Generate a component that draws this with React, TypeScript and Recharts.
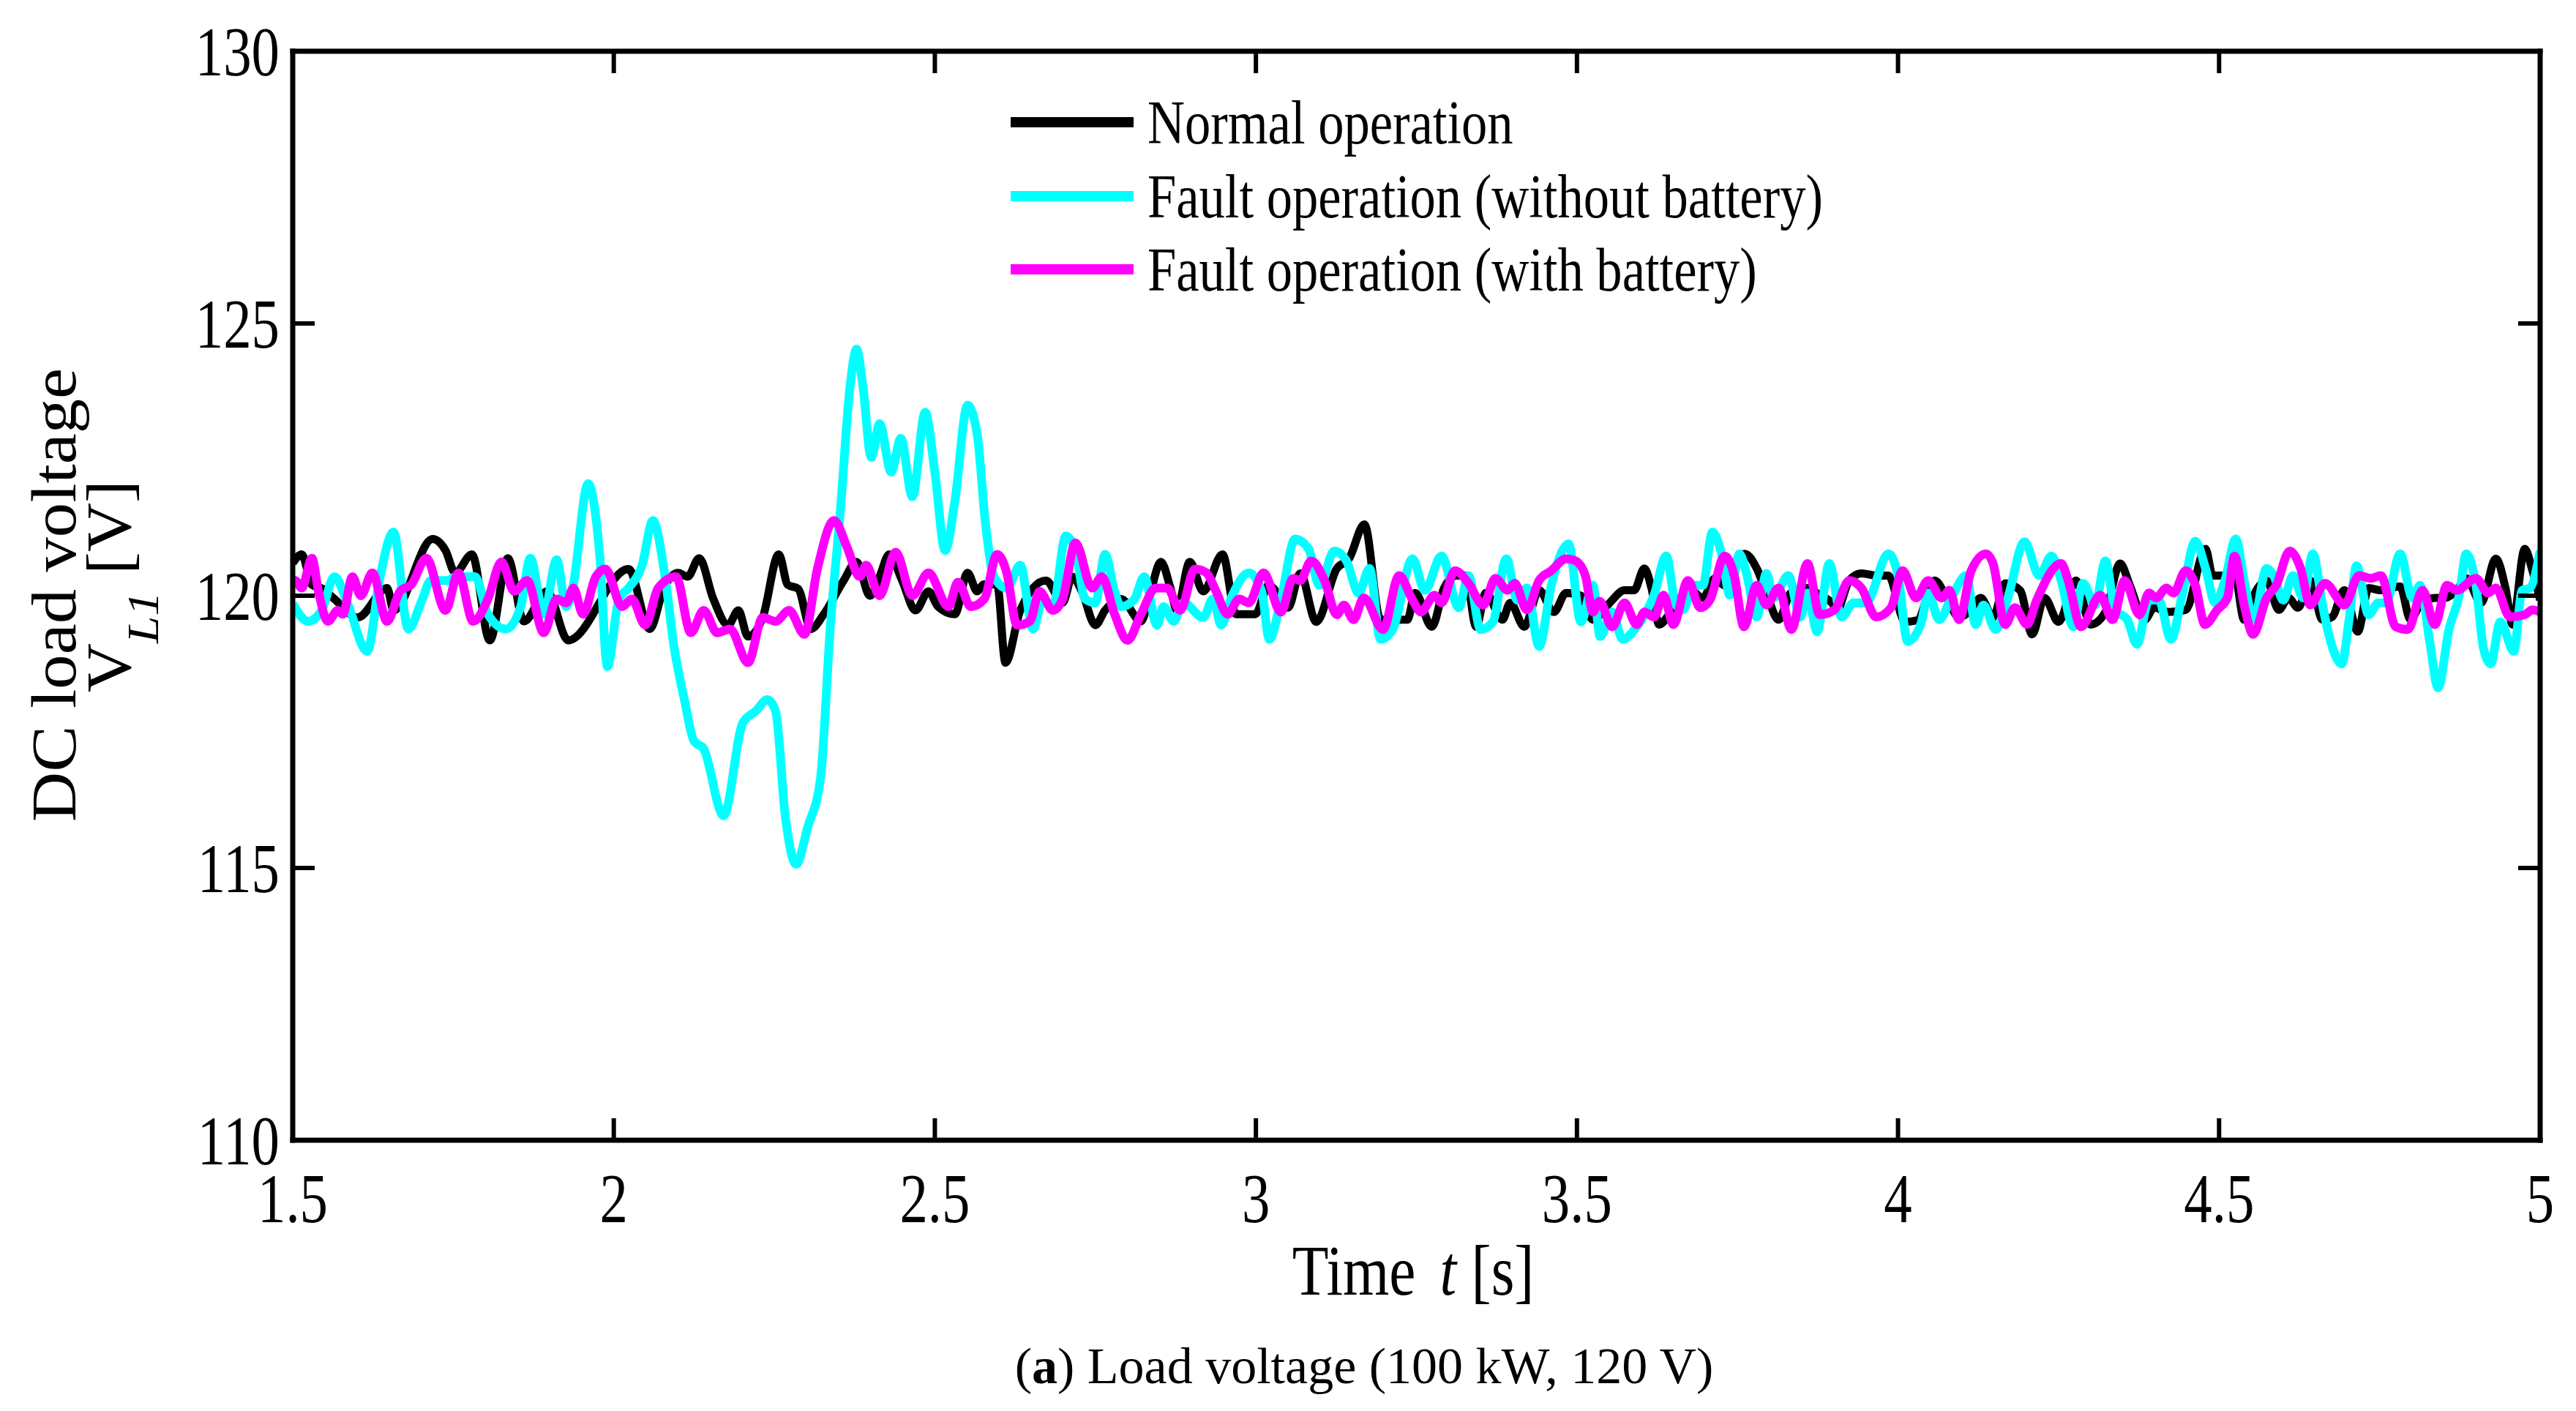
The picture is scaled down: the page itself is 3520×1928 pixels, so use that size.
import { LineChart, Line, XAxis, YAxis, Legend, Customized } from 'recharts';

// time [s] / voltage [V]
const normalT = [
  1.5, 1.514, 1.53, 1.546, 1.565, 1.601, 1.647, 1.657, 1.718, 1.738, 1.753, 1.779, 1.807, 1.835, 1.86, 1.896,
  1.929, 2.023, 2.056, 2.078, 2.1, 2.115, 2.133, 2.155, 2.178, 2.194, 2.209, 2.232, 2.257, 2.271, 2.287, 2.307,
  2.327, 2.358, 2.378, 2.399, 2.414, 2.429, 2.449, 2.47, 2.49, 2.505, 2.531, 2.551, 2.566, 2.576, 2.597, 2.61,
  2.633, 2.673, 2.699, 2.714, 2.729, 2.75, 2.765, 2.79, 2.821, 2.836, 2.852, 2.867, 2.877, 2.897, 2.918, 2.948,
  2.969, 2.999, 3.02, 3.027, 3.05, 3.069, 3.094, 3.126, 3.145, 3.169, 3.194, 3.236, 3.248, 3.274, 3.293, 3.312,
  3.327, 3.343, 3.358, 3.384, 3.396, 3.418, 3.441, 3.464, 3.483, 3.506, 3.525, 3.551, 3.574, 3.589, 3.605, 3.616,
  3.628, 3.643, 3.658, 3.677, 3.696, 3.715, 3.73, 3.761, 3.78, 3.795, 3.814, 3.833, 3.859, 3.878, 3.897, 3.905,
  3.924, 3.943, 3.966, 3.985, 4.011, 4.03, 4.057, 4.076, 4.095, 4.11, 4.129, 4.148, 4.167, 4.19, 4.209, 4.228,
  4.25, 4.277, 4.3, 4.323, 4.346, 4.361, 4.384, 4.399, 4.421, 4.448, 4.479, 4.49, 4.509, 4.524, 4.539, 4.558,
  4.574, 4.593, 4.608, 4.623, 4.642, 4.661, 4.676, 4.695, 4.716, 4.733, 4.752, 4.782, 4.798, 4.813, 4.836, 4.851,
  4.87, 4.885, 4.908, 4.931, 4.946, 4.957, 4.976, 4.988, 5.0,
];
const normalV = [
  120.6, 120.76, 120.2, 120.13, 119.94, 119.6, 120.14, 119.73, 121.04, 120.83, 120.42, 120.76, 119.18, 120.69, 119.53, 120.08,
  119.18, 120.49, 119.39, 120.14, 120.42, 120.35, 120.69, 119.94, 119.46, 119.73, 119.25, 119.6, 120.76, 120.2, 120.13, 119.39,
  119.66, 120.28, 120.62, 120.0, 120.35, 120.76, 120.28, 119.73, 120.08, 119.8, 119.66, 120.42, 120.08, 120.21, 120.21, 118.77,
  119.73, 120.28, 119.87, 120.35, 120.08, 119.46, 119.73, 119.94, 119.53, 120.08, 120.62, 120.14, 119.73, 120.62, 120.08, 120.76,
  119.66, 119.66, 120.2, 120.14, 119.78, 120.41, 119.52, 120.5, 120.68, 121.31, 119.56, 119.56, 120.05, 119.43, 120.14, 120.37,
  120.37, 119.43, 120.05, 119.56, 119.87, 119.43, 120.1, 119.7, 120.05, 120.0, 119.56, 119.87, 120.1, 120.1, 120.5, 120.14,
  119.47, 119.65, 119.92, 120.1, 119.96, 120.32, 120.19, 120.77, 120.5, 120.05, 119.56, 120.05, 120.14, 120.01, 119.87, 119.74,
  120.28, 120.41, 120.37, 120.37, 119.52, 119.55, 120.28, 119.96, 119.6, 119.7, 119.96, 119.6, 120.23, 120.1, 119.29, 119.96,
  119.52, 120.28, 119.47, 119.7, 120.59, 120.19, 119.56, 119.78, 119.7, 119.74, 120.86, 120.37, 120.37, 120.41, 119.56, 120.1,
  120.28, 119.74, 119.96, 119.78, 120.28, 119.56, 119.61, 120.1, 119.34, 120.14, 120.1, 120.17, 119.56, 119.83, 119.96, 119.96,
  120.1, 120.32, 119.87, 120.68, 120.14, 119.47, 120.86, 120.46, 119.92,
];

const noBatteryT = [
  1.5, 1.524, 1.545, 1.565, 1.585, 1.616, 1.636, 1.657, 1.68, 1.702, 1.715, 1.743, 1.753, 1.784, 1.804, 1.832,
  1.855, 1.87, 1.891, 1.911, 1.926, 1.936, 1.96, 1.978, 1.99, 2.008, 2.023, 2.044, 2.061, 2.079, 2.094, 2.11,
  2.125, 2.14, 2.171, 2.201, 2.221, 2.239, 2.252, 2.267, 2.284, 2.302, 2.322, 2.337, 2.353, 2.368, 2.378, 2.388,
  2.401, 2.414, 2.432, 2.447, 2.465, 2.485, 2.5, 2.516, 2.531, 2.551, 2.566, 2.579, 2.592, 2.612, 2.633, 2.653,
  2.668, 2.684, 2.704, 2.719, 2.734, 2.75, 2.765, 2.78, 2.79, 2.811, 2.826, 2.846, 2.856, 2.872, 2.887, 2.918,
  2.933, 2.946, 2.963, 2.989, 3.009, 3.021, 3.039, 3.061, 3.082, 3.099, 3.122, 3.141, 3.16, 3.177, 3.194, 3.213,
  3.244, 3.263, 3.289, 3.316, 3.331, 3.35, 3.369, 3.39, 3.407, 3.422, 3.441, 3.46, 3.487, 3.506, 3.525, 3.536,
  3.555, 3.571, 3.593, 3.608, 3.62, 3.639, 3.654, 3.665, 3.681, 3.696, 3.711, 3.726, 3.738, 3.753, 3.764, 3.78,
  3.795, 3.806, 3.829, 3.848, 3.859, 3.874, 3.893, 3.912, 3.931, 3.95, 3.985, 4.0, 4.015, 4.036, 4.047, 4.064,
  4.083, 4.106, 4.121, 4.133, 4.152, 4.171, 4.197, 4.22, 4.239, 4.254, 4.273, 4.288, 4.307, 4.323, 4.338, 4.357,
  4.372, 4.391, 4.406, 4.425, 4.444, 4.463, 4.479, 4.494, 4.509, 4.526, 4.539, 4.554, 4.574, 4.585, 4.6, 4.615,
  4.631, 4.646, 4.661, 4.669, 4.691, 4.703, 4.714, 4.733, 4.748, 4.76, 4.782, 4.801, 4.813, 4.828, 4.841, 4.858,
  4.874, 4.885, 4.9, 4.912, 4.923, 4.938, 4.959, 4.972, 4.984, 5.0,
];
const noBatteryV = [
  119.85, 119.53, 119.73, 120.35, 119.87, 118.98, 120.35, 121.17, 119.39, 119.94, 120.28, 120.28, 120.35, 120.35, 119.66, 119.39,
  119.8, 120.69, 119.66, 120.66, 119.8, 120.14, 122.06, 120.76, 118.7, 119.94, 120.14, 120.56, 121.38, 120.42, 119.05, 118.09,
  117.33, 117.19, 115.96, 117.67, 117.88, 118.09, 117.88, 115.96, 115.07, 115.75, 116.65, 119.39, 121.58, 123.85, 124.53, 123.85,
  122.54, 123.16, 122.27, 122.89, 121.82, 123.37, 122.27, 120.83, 121.72, 123.5, 122.96, 121.31, 120.35, 120.14, 120.56, 119.39,
  119.94, 119.8, 121.1, 120.83, 119.94, 119.87, 120.76, 120.08, 119.8, 119.94, 120.35, 119.46, 119.8, 119.53, 119.87, 119.6,
  119.94, 119.46, 120.0, 120.42, 120.08, 119.2, 119.92, 121.04, 120.86, 120.19, 120.82, 120.64, 120.05, 120.5, 119.2, 119.38,
  120.68, 120.1, 120.73, 119.78, 120.37, 119.38, 119.52, 120.68, 119.92, 120.14, 119.07, 120.19, 120.95, 119.52, 120.19, 119.25,
  119.7, 119.2, 119.43, 119.7, 120.01, 120.73, 119.83, 119.74, 120.19, 120.19, 121.17, 120.73, 120.01, 120.77, 120.41, 119.61,
  120.41, 119.96, 120.37, 119.61, 120.05, 119.34, 120.59, 119.61, 119.87, 119.87, 120.77, 120.37, 119.16, 119.5, 120.05, 119.56,
  119.96, 120.37, 119.47, 119.83, 119.38, 119.96, 120.99, 120.37, 120.73, 120.28, 119.43, 120.23, 119.83, 120.64, 119.74, 119.56,
  119.11, 119.92, 119.92, 119.2, 120.1, 121.0, 120.5, 119.87, 120.28, 121.04, 120.28, 119.56, 120.5, 120.37, 119.92, 120.37,
  119.96, 120.77, 119.83, 119.38, 118.75, 119.61, 120.55, 119.65, 119.87, 119.87, 120.77, 119.96, 120.19, 119.16, 118.31, 119.38,
  120.01, 120.77, 120.19, 119.02, 118.75, 119.52, 118.98, 120.1, 120.14, 120.82,
];

const withBatteryT = [
  1.5, 1.504, 1.514, 1.53, 1.54, 1.555, 1.57, 1.578, 1.593, 1.606, 1.624, 1.647, 1.667, 1.685, 1.708, 1.738,
  1.758, 1.781, 1.804, 1.825, 1.845, 1.865, 1.891, 1.911, 1.926, 1.937, 1.952, 1.972, 1.987, 2.013, 2.028, 2.049,
  2.069, 2.097, 2.12, 2.14, 2.161, 2.181, 2.209, 2.232, 2.252, 2.273, 2.297, 2.317, 2.343, 2.363, 2.383, 2.393,
  2.414, 2.439, 2.465, 2.49, 2.521, 2.536, 2.556, 2.577, 2.597, 2.612, 2.628, 2.648, 2.663, 2.684, 2.699, 2.719,
  2.745, 2.76, 2.78, 2.8, 2.821, 2.844, 2.862, 2.882, 2.905, 2.923, 2.938, 2.956, 2.974, 2.989, 3.012, 3.039,
  3.058, 3.069, 3.086, 3.107, 3.126, 3.137, 3.152, 3.168, 3.198, 3.223, 3.244, 3.257, 3.278, 3.289, 3.31, 3.331,
  3.354, 3.373, 3.392, 3.403, 3.422, 3.441, 3.46, 3.483, 3.498, 3.513, 3.525, 3.535, 3.555, 3.574, 3.593, 3.605,
  3.62, 3.635, 3.65, 3.673, 3.692, 3.707, 3.73, 3.745, 3.76, 3.78, 3.795, 3.814, 3.834, 3.859, 3.878, 3.901,
  3.924, 3.943, 3.966, 3.989, 4.007, 4.028, 4.047, 4.068, 4.08, 4.095, 4.114, 4.137, 4.148, 4.167, 4.182, 4.201,
  4.216, 4.254, 4.265, 4.285, 4.315, 4.334, 4.353, 4.376, 4.391, 4.402, 4.418, 4.429, 4.448, 4.463, 4.478, 4.497,
  4.513, 4.524, 4.539, 4.553, 4.574, 4.589, 4.61, 4.627, 4.642, 4.665, 4.695, 4.718, 4.737, 4.752, 4.775, 4.794,
  4.817, 4.836, 4.855, 4.87, 4.9, 4.919, 4.931, 4.953, 4.976, 4.988, 5.0,
];
const withBatteryV = [
  120.2, 120.28, 120.14, 120.69, 120.08, 119.53, 119.73, 119.66, 120.35, 120.0, 120.42, 119.53, 120.08, 120.21, 120.69, 119.73,
  120.42, 119.53, 119.94, 120.62, 120.08, 120.28, 119.32, 119.94, 119.87, 120.14, 119.66, 120.35, 120.49, 119.8, 119.94, 119.46,
  120.14, 120.35, 119.32, 119.73, 119.32, 119.39, 118.77, 119.6, 119.53, 119.73, 119.29, 120.49, 121.38, 120.9, 120.35, 120.56,
  120.0, 120.8, 120.0, 120.42, 119.8, 120.25, 119.8, 119.94, 120.76, 120.42, 119.46, 119.53, 120.08, 119.73, 119.94, 120.97,
  120.14, 120.35, 119.66, 119.18, 119.66, 120.14, 120.14, 119.73, 120.49, 120.42, 120.08, 119.66, 119.94, 119.87, 120.42, 119.7,
  120.32, 120.28, 120.64, 120.28, 119.65, 119.83, 119.56, 119.96, 119.38, 120.37, 119.92, 119.7, 120.01, 119.87, 120.46, 120.23,
  119.83, 120.32, 120.1, 120.23, 119.74, 120.28, 120.46, 120.68, 120.64, 120.37, 119.7, 119.9, 119.43, 119.87, 119.47, 119.7,
  119.61, 120.01, 119.47, 120.28, 119.78, 119.92, 120.73, 120.37, 119.43, 120.19, 119.83, 120.14, 119.38, 120.59, 119.65, 119.74,
  120.28, 120.14, 119.61, 119.78, 120.46, 119.96, 120.28, 119.96, 120.1, 119.56, 120.46, 120.77, 120.59, 119.47, 119.78, 119.47,
  119.92, 120.59, 120.28, 119.43, 120.01, 119.56, 120.28, 119.65, 120.05, 119.96, 120.14, 120.05, 120.46, 120.19, 119.47, 119.74,
  119.96, 120.73, 119.83, 119.29, 119.96, 120.19, 120.82, 120.5, 119.83, 120.23, 119.83, 120.37, 120.32, 120.37, 119.43, 119.38,
  120.1, 119.47, 120.19, 120.1, 120.32, 120.05, 120.14, 119.61, 119.65, 119.74, 119.7,
];

const xTicks = [1.5, 2, 2.5, 3, 3.5, 4, 4.5, 5];
const yTicks = [110, 115, 120, 125, 130];

const seriesNames = ['Normal operation', 'Fault operation (without battery)', 'Fault operation (with battery)'];
const seriesColors = ['#000000', '#00ffff', '#ff00ff'];

const toRows = (ts: number[], vs: number[]) => ts.map((t, i) => ({ t, v: vs[i] }));
const normalData = toRows(normalT, normalV);
const noBatteryData = toRows(noBatteryT, noBatteryV);
const withBatteryData = toRows(withBatteryT, withBatteryV);

const FONT = '"Liberation Serif", "Times New Roman", serif';
const TICK_LEN = 30;

const BottomTick = ({ x, y, payload }: any) => (
  <g>
    <line x1={x} x2={x} y1={y} y2={y - TICK_LEN} stroke="#000" strokeWidth={6} />
    <text transform={`translate(${x},${y + 112}) scale(0.8,1)`} textAnchor="middle" fontSize={96} fontFamily={FONT} fill="#000">
      {payload.value}
    </text>
  </g>
);

const TopTick = ({ x, y }: any) => (
  <line x1={x} x2={x} y1={y} y2={y + TICK_LEN} stroke="#000" strokeWidth={6} />
);

const LeftTick = ({ x, y, payload }: any) => (
  <g>
    <line x1={x} x2={x + TICK_LEN} y1={y} y2={y} stroke="#000" strokeWidth={6} />
    <text transform={`translate(${x - 18},${y + 33}) scale(0.8,1)`} textAnchor="end" fontSize={96} fontFamily={FONT} fill="#000">
      {payload.value}
    </text>
  </g>
);

const RightTick = ({ x, y }: any) => (
  <line x1={x - TICK_LEN} x2={x} y1={y} y2={y} stroke="#000" strokeWidth={6} />
);

const Texts = () => (
  <g fontFamily={FONT} fill="#000">
    <text transform="translate(103,813) rotate(-90) scale(1.1,1)" textAnchor="middle" fontSize={86}>
      DC load voltage
    </text>
    <text transform="translate(178,801) rotate(-90) scale(1.08,1)" textAnchor="middle" fontSize={86}>
      V
      <tspan fontStyle="italic" fontSize={62} dy={38}>L1</tspan>
      <tspan dy={-38}> [V]</tspan>
    </text>
    <text transform="translate(1931,1769) scale(0.83,1)" textAnchor="middle" fontSize={98}>
      Time
      <tspan fontStyle="italic" dx={40}>t</tspan>
      <tspan> [s]</tspan>
    </text>
    <text x={1864} y={1890} textAnchor="middle" fontSize={70}>
      (<tspan fontWeight="bold">a</tspan>) Load voltage (100 kW, 120 V)
    </text>
  </g>
);

const LegendBox = () => (
  <div style={{ position: 'relative', width: 1300, height: 310, fontFamily: FONT }}>
    {seriesNames.map((name, i) => {
      const center = 50 + i * 100.5;
      return (
        <div key={name}>
          <div style={{ position: 'absolute', left: 0, top: center - 7, width: 168, height: 14, background: seriesColors[i] }} />
          <div
            style={{
              position: 'absolute',
              left: 187,
              top: center + 29 - 70,
              fontSize: 84,
              lineHeight: '84px',
              whiteSpace: 'nowrap',
              color: '#000',
              transform: 'scaleX(0.84)',
              transformOrigin: 'left center',
            }}
          >
            {name}
          </div>
        </div>
      );
    })}
  </div>
);

const frame = { stroke: '#000', strokeWidth: 7, strokeLinecap: 'square' as const };

export default function App() {
  return (
    <div style={{ position: 'absolute', left: 0, top: 0, width: 3520, height: 1928, background: '#fff' }}>
      <LineChart width={3520} height={1928} margin={{ top: 69, right: 48, bottom: 369, left: 399 }}>
        <XAxis
          xAxisId="b"
          dataKey="t"
          type="number"
          domain={[1.5, 5]}
          ticks={xTicks}
          interval={0}
          allowDataOverflow
          height={1}
          tickSize={0}
          tickMargin={0}
          tickLine={false}
          axisLine={frame}
          tick={<BottomTick />}
        />
        <XAxis
          xAxisId="t"
          orientation="top"
          dataKey="t"
          type="number"
          domain={[1.5, 5]}
          ticks={xTicks}
          interval={0}
          allowDataOverflow
          height={1}
          tickSize={0}
          tickMargin={0}
          tickLine={false}
          axisLine={frame}
          tick={<TopTick />}
        />
        <YAxis
          yAxisId="l"
          type="number"
          domain={[110, 130]}
          ticks={yTicks}
          interval={0}
          allowDataOverflow
          width={1}
          tickSize={0}
          tickMargin={0}
          tickLine={false}
          axisLine={frame}
          tick={<LeftTick />}
        />
        <YAxis
          yAxisId="r"
          orientation="right"
          type="number"
          domain={[110, 130]}
          ticks={yTicks}
          interval={0}
          allowDataOverflow
          width={1}
          tickSize={0}
          tickMargin={0}
          tickLine={false}
          axisLine={frame}
          tick={<RightTick />}
        />
        <Legend
          layout="horizontal"
          align="center"
          verticalAlign="middle"
          wrapperStyle={{ left: 1381, top: 117, width: 1300, height: 310 }}
          content={<LegendBox />}
        />
        <Line xAxisId="b" yAxisId="l" data={normalData} dataKey="v" name={seriesNames[0]} type="monotone"
          stroke={seriesColors[0]} strokeWidth={11} dot={false} activeDot={false} isAnimationActive={false} />
        <Line xAxisId="b" yAxisId="l" data={noBatteryData} dataKey="v" name={seriesNames[1]} type="monotone"
          stroke={seriesColors[1]} strokeWidth={12} dot={false} activeDot={false} isAnimationActive={false} />
        <Line xAxisId="b" yAxisId="l" data={withBatteryData} dataKey="v" name={seriesNames[2]} type="monotone"
          stroke={seriesColors[2]} strokeWidth={12} dot={false} activeDot={false} isAnimationActive={false} />
        <Customized component={<Texts />} />
      </LineChart>
    </div>
  );
}
